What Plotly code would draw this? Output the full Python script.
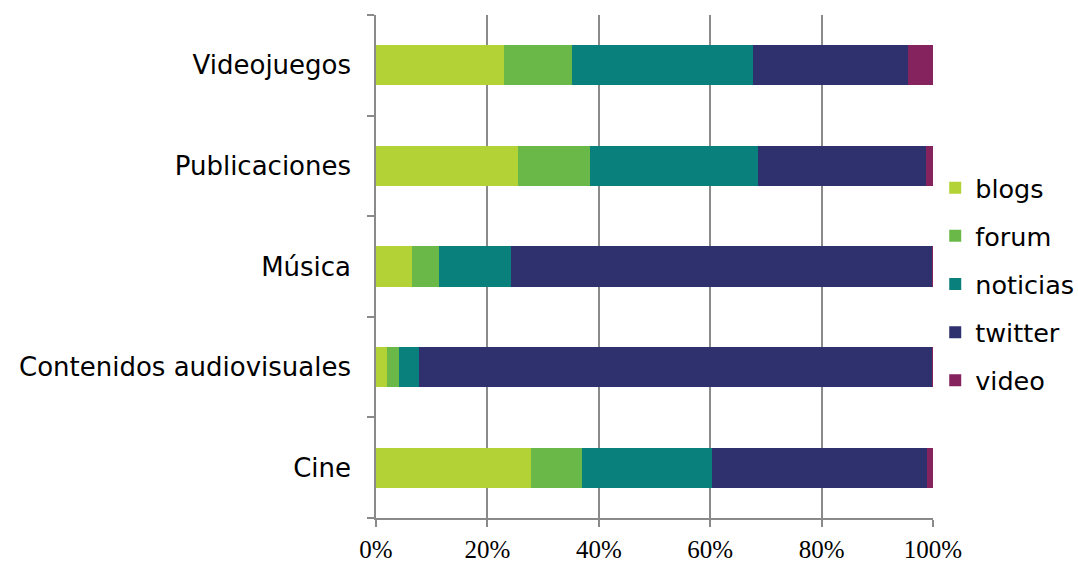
import plotly.graph_objects as go

categories = ["Cine", "Contenidos audiovisuales", "Música", "Publicaciones", "Videojuegos"]
blogs = [27.9, 2.0, 6.4, 25.5, 22.9]
forum = [9.1, 2.1, 4.9, 12.9, 12.3]
noticias = [23.4, 3.7, 12.9, 30.2, 32.5]
twitter = [38.5, 92.1, 75.7, 30.1, 27.8]
video = [1.1, 0.1, 0.1, 1.3, 4.5]

series = [("blogs", blogs, "#B2D235"), ("forum", forum, "#6AB847"),
          ("noticias", noticias, "#0A807D"), ("twitter", twitter, "#2E316E"),
          ("video", video, "#85235E")]

fig = go.Figure()
for name, vals, color in series:
    fig.add_trace(go.Bar(y=categories, x=vals, name=name, orientation="h",
                         marker=dict(color=color, line=dict(width=0)),
                         legendgroup=name))

fig.update_layout(
    barmode="stack", barnorm="percent", bargap=0.6,
    width=1078, height=563,
    margin=dict(l=376, r=145, t=15, b=45, autoexpand=False),
    paper_bgcolor="white", plot_bgcolor="white",
    font=dict(family="DejaVu Sans", size=26, color="#000"),
    legend=dict(x=0.0, xanchor="left", y=0.465, yanchor="middle",
                traceorder="grouped", tracegroupgap=12,
                font=dict(family="DejaVu Sans", size=25.5, color="#000")),
    xaxis=dict(range=[0, 100], tickvals=[0, 20, 40, 60, 80, 100],
               ticktext=["0%", "20%", "40%", "60%", "80%", "100%"],
               showgrid=True, gridcolor="#8a8a8a", gridwidth=1.5,
               showline=True, linecolor="#8a8a8a", linewidth=1.5,
               ticks="outside", ticklen=7, tickcolor="#8a8a8a", tickwidth=1.5,
               ticklabelstandoff=1, automargin=False,
               tickfont=dict(family="Liberation Serif", size=25, color="#000"),
               zeroline=False, fixedrange=True),
    yaxis=dict(categoryorder="array", categoryarray=categories,
               showline=True, linecolor="#8a8a8a", linewidth=1.5,
               ticks="outside", tickson="boundaries", ticklen=7,
               tickcolor="#8a8a8a", tickwidth=1.5, showgrid=False,
               ticklabelstandoff=18, automargin=False,
               tickfont=dict(family="DejaVu Sans", size=26, color="#000")),
)
fig.update_layout(legend_x=1.004)

fig.write_html("out.html")
